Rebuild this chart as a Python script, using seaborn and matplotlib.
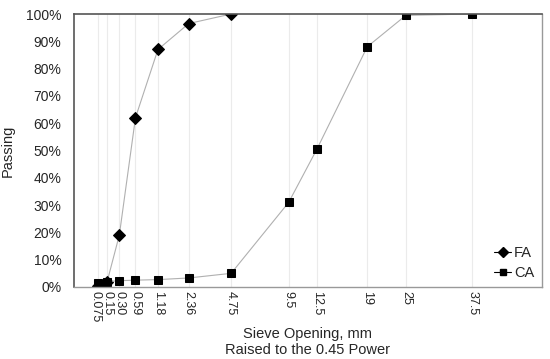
import matplotlib
matplotlib.use("Agg")
import matplotlib.pyplot as plt
import matplotlib.transforms as mtransforms
from matplotlib.lines import Line2D
import numpy as np
import pandas as pd
import seaborn as sns

# sieve sizes (mm) and percent passing
sieves = [0.075, 0.15, 0.30, 0.59, 1.18, 2.36, 4.75, 9.5, 12.5, 19, 25, 37.5]
tick_labels = ["0.075", "0.15", "0.30", "0.59", "1.18", "2.36", "4.75", "9.5", "12.5", "19", "25", "37.5"]
fa_sieves = [0.075, 0.15, 0.30, 0.59, 1.18, 2.36, 4.75]
fa_pass = [0.5, 2.0, 19.0, 62.0, 87.0, 96.5, 100.0]
ca_sieves = [0.075, 0.15, 0.30, 0.59, 1.18, 2.36, 4.75, 9.5, 12.5, 19, 25, 37.5]
ca_pass = [1.5, 2.0, 2.3, 2.5, 2.7, 3.3, 5.0, 31.0, 50.5, 88.0, 99.5, 100.0]

power = 0.45
fa = pd.DataFrame({"x": np.array(fa_sieves) ** power, "y": fa_pass, "grp": "FA"})
ca = pd.DataFrame({"x": np.array(ca_sieves) ** power, "y": ca_pass, "grp": "CA"})
df = pd.concat([fa, ca], ignore_index=True)

sns.set_style("white")
plt.rcParams['font.family'] = ['Liberation Sans', 'DejaVu Sans']

fig = plt.figure(figsize=(5.5, 3.59), dpi=100)
ax = fig.add_axes([0.1345, 0.2006, 0.8505, 0.7604])

sns.lineplot(data=df, x="x", y="y", hue="grp", style="grp",
             markers={"FA": "D", "CA": "s"}, dashes=False,
             palette={"FA": "#b0b0b0", "CA": "#b0b0b0"},
             linewidth=0.8, markersize=6, markeredgecolor="black",
             markerfacecolor="black", ax=ax, legend=False)

xt = np.array(sieves) ** power
ax.set_xticks(xt)
ax.set_xticklabels(tick_labels, rotation=270, fontsize=9)
ax.set_xlim(0, 6)
ax.set_ylim(0, 100)
ax.set_yticks(range(0, 101, 10))
ax.set_yticklabels([f"{v}%" for v in range(0, 101, 10)], fontsize=10)
for v in xt:
    ax.axvline(v, color="#ebebeb", linewidth=0.8, zorder=0)
ax.tick_params(axis="y", length=4, width=0.8, color="#555555", direction="out", pad=5)
ax.tick_params(axis="x", length=0, pad=3)

# nudge the crowded first labels apart a little
lbls = ax.get_xticklabels()
lbls[0].set_transform(lbls[0].get_transform() + mtransforms.ScaledTranslation(-2.5 / 100, 0, fig.dpi_scale_trans))
lbls[1].set_transform(lbls[1].get_transform() + mtransforms.ScaledTranslation(0.5 / 100, 0, fig.dpi_scale_trans))

for s in ["top", "left"]:
    ax.spines[s].set_color("#555555")
    ax.spines[s].set_linewidth(1.2)
for s in ["right", "bottom"]:
    ax.spines[s].set_color("#999999")
    ax.spines[s].set_linewidth(1.0)

ax.set_xlabel("Sieve Opening, mm\nRaised to the 0.45 Power", fontsize=10.5, labelpad=3)
ax.set_ylabel("Passing", fontsize=10.5, labelpad=8)

handles = [Line2D([], [], color="black", marker="D", markersize=5, linewidth=0.8),
           Line2D([], [], color="black", marker="s", markersize=5, linewidth=0.8)]
ax.legend(handles, ["FA", "CA"], loc="lower right", frameon=False, fontsize=10.5,
          handlelength=1.2, handletextpad=0.2, borderaxespad=0.1, labelspacing=0.4)

fig.savefig("out.png", dpi=100)
